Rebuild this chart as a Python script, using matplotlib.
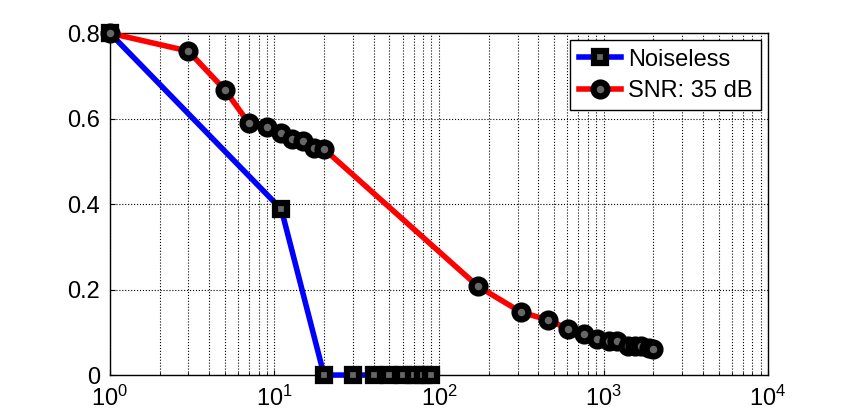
import matplotlib
matplotlib.use("Agg")
import matplotlib.pyplot as plt
plt.rcParams['font.family'] = 'Liberation Sans'

noiseless_x = [1, 11, 20, 30, 40, 50, 60, 70, 80, 90]
noiseless_y = [0.8, 0.388, 0, 0, 0, 0, 0, 0, 0, 0]
snr_x = [1, 3, 5, 7, 9, 11, 12.8, 14.9, 17.4, 20, 172, 316, 460, 610, 760, 910, 1080, 1200, 1400, 1550, 1700, 1900, 2000]
snr_y = [0.8, 0.758, 0.667, 0.589, 0.58, 0.566, 0.552, 0.547, 0.531, 0.529, 0.208, 0.147, 0.129, 0.108, 0.096, 0.084, 0.080, 0.079, 0.068, 0.068, 0.067, 0.063, 0.061]

fig = plt.figure(figsize=(8.48, 4.2), dpi=100)
ax = fig.add_axes([0.1297, 0.107, 0.776, 0.814])
ax.plot(noiseless_x, noiseless_y, '-s', color='blue', lw=4, ms=8, mfc='#666666',
        mec='black', mew=4.5, label='Noiseless', clip_on=False, zorder=3)
ax.plot(snr_x, snr_y, '-o', color='red', lw=4, ms=10, mfc='#666666',
        mec='black', mew=4.5, label='SNR: 35 dB', clip_on=False, zorder=3)
ax.set_xscale('log')
ax.set_xlim(1, 1e4)
ax.set_ylim(0, 0.8)
ax.set_yticks([0, 0.2, 0.4, 0.6, 0.8])
ax.set_yticklabels(['0', '0.2', '0.4', '0.6', '0.8'])
ax.grid(True, which='both', axis='x', linestyle=':', color='black', lw=0.8)
ax.grid(True, which='major', axis='y', linestyle=':', color='black', lw=0.8)
ax.tick_params(labelsize=17, direction='in', which='both')
ax.tick_params(axis='y', pad=7)
ax.tick_params(axis='x', pad=8)
for s in ax.spines.values():
    s.set_linewidth(1)
ax.legend(loc='upper right', fontsize=17, fancybox=False, edgecolor='black',
          handlelength=1.8, handletextpad=0.3, borderpad=0.35, labelspacing=0.4,
          borderaxespad=0.3, framealpha=1)
fig.savefig('out.png', dpi=100)
